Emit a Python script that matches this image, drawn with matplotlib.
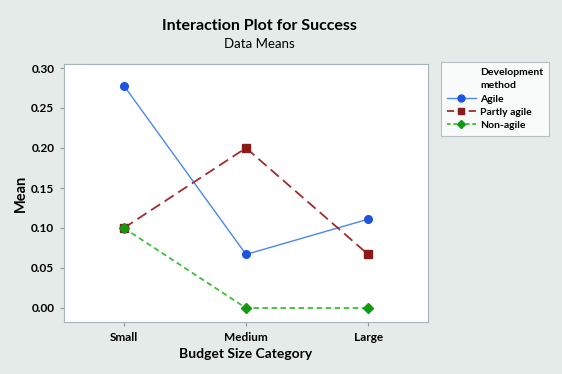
import matplotlib.pyplot as plt
from matplotlib.lines import Line2D

# ---------- data ----------
categories = ["Small", "Medium", "Large"]
agile = [0.278, 0.067, 0.111]
partly_agile = [0.100, 0.200, 0.067]
non_agile = [0.100, 0.000, 0.000]
y_ticks = [0.00, 0.05, 0.10, 0.15, 0.20, 0.25, 0.30]

BG = "#e4ebe8"

plt.rcParams["font.family"] = ["Lato", "DejaVu Sans"]

fig = plt.figure(figsize=(5.62, 3.74), dpi=100, facecolor=BG)
ax = fig.add_axes([64 / 562, 1 - 322 / 374, (428 - 64) / 562, (322 - 64) / 374])

x = list(range(len(categories)))
ax.plot(x, agile, color="#4a88ee", lw=1.0, marker="o", ms=5.5,
        mfc="#1b55e0", mec="#1b55e0", label="Agile")
ax.plot(x, partly_agile, color="#a02c2c", lw=1.3, ls=(0, (6, 3)), marker="s", ms=5.5,
        mfc="#8b1a1a", mec="#8b1a1a", label="Partly agile")
ax.plot(x, non_agile, color="#39c139", lw=1.3, ls=(0, (3, 2)), marker="D", ms=5,
        mfc="#0f9a0f", mec="#0f9a0f", label="Non-agile")

ax.set_xlim(-0.49, 2.49)
ax.set_ylim(-0.0175, 0.305)
ax.set_xticks(x)
ax.set_xticklabels(categories, fontsize=8.5, fontweight="bold")
ax.set_yticks(y_ticks)
ax.set_yticklabels([f"{v:.2f}" for v in y_ticks], fontsize=8.5, fontweight="bold")
ax.tick_params(length=3, color="#8a9aa0", pad=4)
for s in ax.spines.values():
    s.set_color("#a8b4b8")
ax.set_xlabel("Budget Size Category", fontsize=10, fontweight="bold", labelpad=4)
ax.set_ylabel("Mean", fontsize=10.5, fontweight="bold", labelpad=2)

fig.text(0.462, 1 - 26 / 374, "Interaction Plot for Success", ha="center", va="center",
         fontsize=11.5, fontweight="bold")
fig.text(0.462, 1 - 44 / 374, "Data Means", ha="center", va="center", fontsize=9.5)

blank = Line2D([], [], color="white", lw=0)
handles = [
    blank, blank,
    Line2D([], [], color="#4a88ee", lw=1.0, marker="o", ms=5, mfc="#1b55e0", mec="#1b55e0"),
    Line2D([], [], color="#a02c2c", lw=1.3, ls=(0, (4, 2)), marker="s", ms=5, mfc="#8b1a1a", mec="#8b1a1a"),
    Line2D([], [], color="#39c139", lw=1.3, ls=(0, (2, 1.5)), marker="D", ms=4.5, mfc="#0f9a0f", mec="#0f9a0f"),
]
labels = ["Development", "method", "Agile", "Partly agile", "Non-agile"]
leg = fig.legend(handles, labels, loc="upper left", bbox_to_anchor=(441 / 562, 1 - 62 / 374),
                 prop={"size": 7.5, "weight": "bold"}, frameon=True, fancybox=False,
                 handlelength=2.8, handletextpad=0.4, labelspacing=0.38, borderpad=0.55,
                 borderaxespad=0)
leg.get_frame().set_edgecolor("#a8b4b8")
leg.get_frame().set_facecolor("white")
leg.get_frame().set_linewidth(0.8)

fig.savefig("out.png", dpi=100, facecolor=BG)
